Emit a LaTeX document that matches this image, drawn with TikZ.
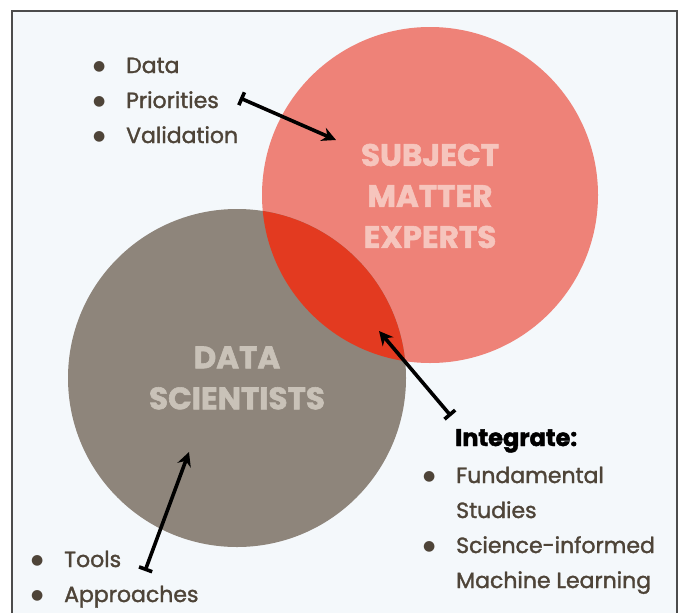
\documentclass[tikz,border=0pt]{standalone}
\usepackage{fontspec}
\setmainfont{Poppins}
\newfontfamily\listfont{Poppins}[RawFeature={embolden=1.5}]
\newfontfamily\labelfont{Poppins}[UprightFont={* Bold}, RawFeature={embolden=1.8}]
\newfontfamily\symfont{DejaVu Sans}
\usetikzlibrary{arrows.meta}

\definecolor{panelbg}{HTML}{F4F8FB}
\definecolor{smepink}{HTML}{EE8278}
\definecolor{dsgray}{HTML}{8E857B}
\definecolor{overlapred}{HTML}{E33A20}
\definecolor{smetext}{HTML}{F6C5BD}
\definecolor{dstext}{HTML}{C9C2B8}
\definecolor{itemtext}{HTML}{4E4438}

\tikzset{
  itemlist/.style={anchor=base west, inner sep=0pt, text=itemtext,
    font=\listfont\fontsize{22}{35}\selectfont},
  circlabel/.style={align=center, inner sep=0pt,
    font=\labelfont\fontsize{31}{41}\selectfont},
  pointer/.style={line width=3.6pt,
    {Bar[width=14pt,line width=3.6pt]}-{Stealth[length=14pt,width=14pt]}},
}

% round bullet, then the item text
\newcommand{\itembullet}{\makebox[32pt][l]{\hspace*{-1pt}%
  \raisebox{3pt}{\symfont\fontsize{14}{14}\selectfont ●}}}
\newcommand{\bulletlist}[1]{%
  \begin{tabular}[t]{@{}l@{}l@{}}#1\end{tabular}}

\begin{document}
\begin{tikzpicture}[x=1pt,y=-1pt]
  \useasboundingbox (0,0) rectangle (684,613);
  % Panel
  \fill[panelbg] (12,11) rectangle (677,613);

  % The two circles and their overlap
  \coordinate (sme) at (430,195);
  \coordinate (ds) at (237,378);
  \fill[smepink] (sme) circle[radius=168pt];
  \fill[dsgray] (ds) circle[radius=169pt];
  \begin{scope}
    \clip (sme) circle[radius=168pt];
    \fill[overlapred] (ds) circle[radius=169pt];
  \end{scope}

  % Circle labels
  \node[circlabel, text=smetext] (smelabel) at (430,196) {SUBJECT\\MATTER\\EXPERTS};
  \node[circlabel, text=dstext] (dslabel) at (237,378) {DATA\\SCIENTISTS};

  % Lists
  \node[itemlist] (smeitems) at (94,73)
    {\bulletlist{\itembullet & Data\\ \itembullet & Priorities\\ \itembullet & Validation}};
  \node[itemlist, font=\labelfont\fontsize{24}{35}\selectfont, text=black]
    (integrate) at (455,446) {Integrate:};
  \node[itemlist] (integrateitems) at (424,483)
    {\bulletlist{\itembullet & Fundamental\\ & Studies\\
      \itembullet & Science-informed\\ & Machine Learning}};
  \node[itemlist] (dsitems) at (32,567)
    {\bulletlist{\itembullet & Tools\\ \itembullet & Approaches}};

  % Pointers
  \coordinate (prio) at (240,98);
  \coordinate (smein) at (336,140);
  \coordinate (intstart) at (451,416);
  \coordinate (overlap) at (379,331);
  \coordinate (toolsstart) at (145,571);
  \coordinate (dsin) at (189,452);
  \draw[pointer] (prio) -- (smein);
  \draw[pointer] (intstart) -- (overlap);
  \draw[pointer] (toolsstart) -- (dsin);

  % Frame, open at the bottom
  \draw[line width=1.5pt, black!70] (12,613) -- (12,11) -- (677,11) -- (677,613);
\end{tikzpicture}
\end{document}
